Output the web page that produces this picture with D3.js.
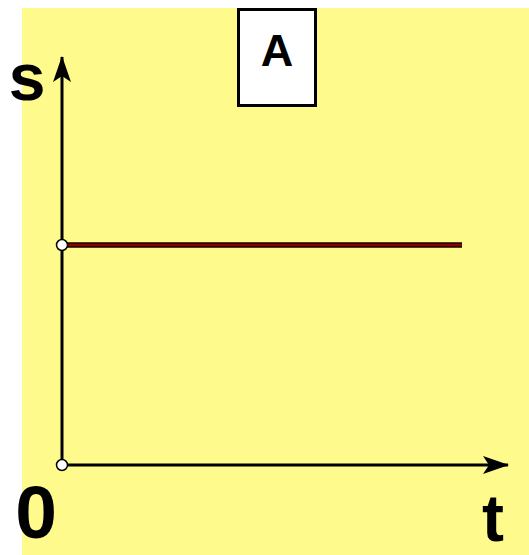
<!DOCTYPE html>
<html>
<head>
<meta charset="utf-8">
<script src="https://cdn.jsdelivr.net/npm/d3@7"></script>
<style>
  body { margin: 0; background: #fff; }
  svg { display: block; }
</style>
</head>
<body>
<div id="chart"></div>
<script>
// Data: position s is constant over time t
const tValues = [0, 10];
const sValues = [5.5, 5.5];
const openPoints = [{ t: 0, s: 5.5 }, { t: 0, s: 0 }];
const panelLabel = "A";
const axisLabels = { x: "t", y: "s", origin: "0" };

const width = 529;
const height = 555;

const svg = d3.select("#chart")
    .append("svg")
    .attr("width", width)
    .attr("height", height);

// Yellow panel
svg.append("rect")
    .attr("x", 22)
    .attr("y", 8)
    .attr("width", width - 22)
    .attr("height", height - 8)
    .attr("fill", "#fffa8c");

// Scales (40px per unit)
const x = d3.scaleLinear().domain([0, 11]).range([62, 502]);
const y = d3.scaleLinear().domain([0, 10]).range([465, 65]);

// Arrow marker
const defs = svg.append("defs");
defs.append("marker")
    .attr("id", "arrow")
    .attr("viewBox", "0 0 26 18")
    .attr("refX", 25)
    .attr("refY", 9)
    .attr("markerWidth", 26)
    .attr("markerHeight", 18)
    .attr("markerUnits", "userSpaceOnUse")
    .attr("orient", "auto")
    .append("path")
    .attr("d", "M0,0 L26,9 L0,18 L6,9 Z")
    .attr("fill", "#000");

// Axes
svg.append("line")
    .attr("x1", x(0)).attr("y1", y(0) + 1)
    .attr("x2", x(0)).attr("y2", 57)
    .attr("stroke", "#000")
    .attr("stroke-width", 3)
    .attr("marker-end", "url(#arrow)");

svg.append("line")
    .attr("x1", x(0) - 1).attr("y1", y(0))
    .attr("x2", 508).attr("y2", y(0))
    .attr("stroke", "#000")
    .attr("stroke-width", 3)
    .attr("marker-end", "url(#arrow)");

// s(t) line
const line = d3.line()
    .x((d, i) => x(tValues[i]))
    .y(d => y(d));

svg.append("path")
    .datum(sValues)
    .attr("d", line)
    .attr("fill", "none")
    .attr("stroke", "#1a0000")
    .attr("stroke-width", 5.5);

svg.append("path")
    .datum(sValues)
    .attr("d", line)
    .attr("fill", "none")
    .attr("stroke", "#8b0000")
    .attr("stroke-width", 2.5);

// Open points
svg.selectAll(".pt")
    .data(openPoints)
    .join("circle")
    .attr("class", "pt")
    .attr("cx", d => x(d.t))
    .attr("cy", d => y(d.s))
    .attr("r", 5.5)
    .attr("fill", "#fff")
    .attr("stroke", "#000")
    .attr("stroke-width", 1.5);

// Labels
const font = "Liberation Sans, Arial, sans-serif";

svg.append("text")
    .attr("x", 27)
    .attr("y", 100)
    .attr("text-anchor", "middle")
    .attr("font-family", font)
    .attr("font-weight", "bold")
    .attr("font-size", 66)
    .text(axisLabels.y);

svg.append("text")
    .attr("x", 36)
    .attr("y", 538)
    .attr("text-anchor", "middle")
    .attr("font-family", font)
    .attr("font-weight", "bold")
    .attr("font-size", 75)
    .text(axisLabels.origin);

svg.append("text")
    .attr("x", 493)
    .attr("y", 541)
    .attr("text-anchor", "middle")
    .attr("font-family", font)
    .attr("font-weight", "bold")
    .attr("font-size", 66)
    .text(axisLabels.x);

// Panel label box
svg.append("rect")
    .attr("x", 238.5)
    .attr("y", 9.5)
    .attr("width", 77)
    .attr("height", 96)
    .attr("fill", "#fff")
    .attr("stroke", "#000")
    .attr("stroke-width", 3);

svg.append("text")
    .attr("x", 277)
    .attr("y", 66)
    .attr("text-anchor", "middle")
    .attr("font-family", font)
    .attr("font-weight", "bold")
    .attr("font-size", 45)
    .text(panelLabel);
</script>
</body>
</html>
